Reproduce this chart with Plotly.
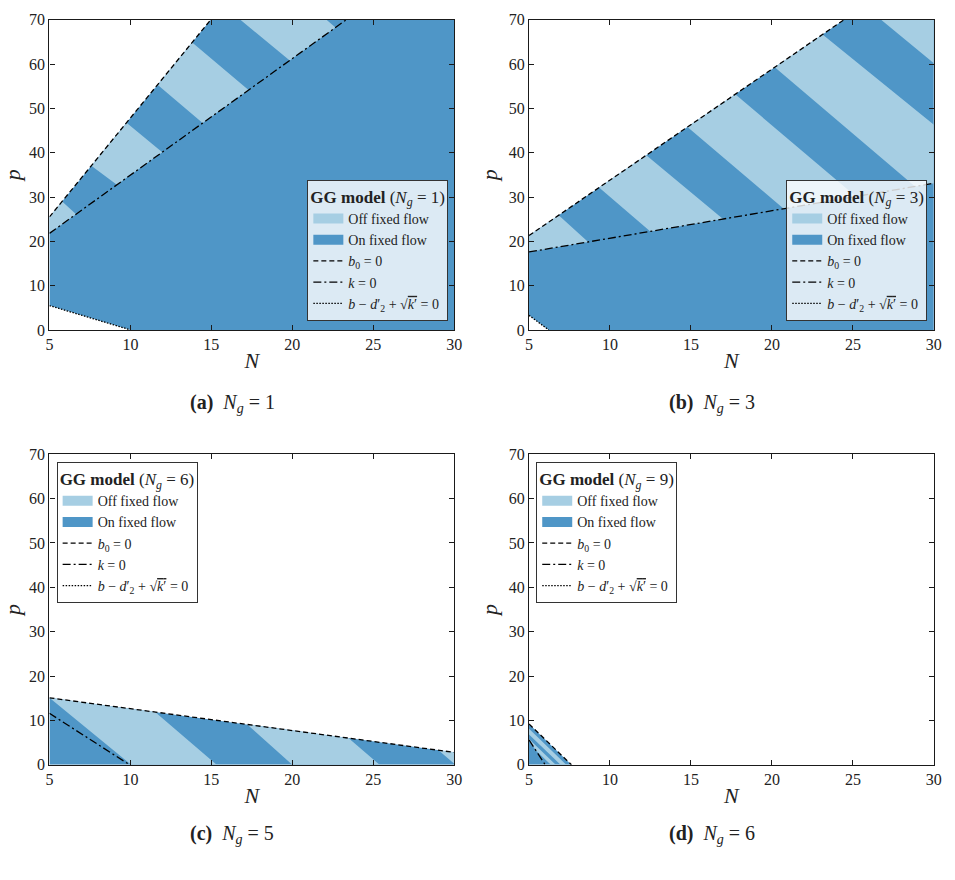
import plotly.graph_objects as go

# ---------------- data ----------------
# axes
N_TICKS = [5, 10, 15, 20, 25, 30]
P_TICKS = [0, 10, 20, 30, 40, 50, 60, 70]

# panel (a)  N_g = 1
A_B0_N = [5.0, 14.96]
A_B0_P = [25.5, 70.0]
A_K_N = [5.0, 23.33]
A_K_P = [21.8, 70.0]
A_DOT_N = [5.0, 10.02]
A_DOT_P = [5.5, 0.0]
A_BND_N = [[5.91, 6.63], [7.64, 9.11], [9.82, 11.91], [11.75, 14.39],
           [13.88, 17.24], [16.79, 19.78], [22.11, 22.62]]
A_BND_P = [[28.6, 26.2], [36.9, 32.9], [46.6, 40.3], [55.1, 46.9],
           [64.7, 54.3], [70.0, 61.0], [70.0, 68.4]]
A_FIRST_OFF = True

# panel (b)  N_g = 3
B_B0_N = [5.0, 24.45]
B_B0_P = [21.3, 70.0]
B_K_N = [5.0, 30.0]
B_K_P = [17.6, 33.1]
B_DOT_N = [5.0, 6.22]
B_DOT_P = [3.3, 0.0]
B_BND_N = [[6.83, 8.55], [9.37, 12.41], [12.32, 16.89], [14.85, 20.84],
           [17.80, 25.55], [20.24, 27.48], [23.19, 30.0], [26.74, 30.0]]
B_BND_P = [[25.9, 20.2], [32.0, 22.5], [39.2, 25.3], [45.6, 27.0],
           [53.0, 29.0], [59.1, 36.6], [66.5, 46.3], [70.0, 60.2]]
B_FIRST_OFF = True

# panel (c)  N_g = 5 (legend N_g = 6)
C_B0_N = [5.0, 30.0]
C_B0_P = [15.1, 2.8]
C_K_N = [5.0, 9.95]
C_K_P = [11.6, 0.0]
C_BND_N = [[5.0, 10.05], [11.44, 15.33], [17.13, 20.0], [23.43, 25.39], [29.02, 30.07]]
C_BND_P = [[15.1, 0.0], [12.16, 0.0], [9.37, 0.0], [6.12, 0.0], [3.3, 0.0]]
C_FIRST_OFF = False

# panel (d)  N_g = 6 (legend N_g = 9)
D_B0_N = [5.0, 7.62]
D_B0_P = [9.2, 0.0]
D_K_N = [5.0, 6.0]
D_K_P = [5.6, 0.0]
D_BND_N = [[5.0, 6.35], [5.0, 6.65], [5.0, 6.95], [5.0, 7.3]]
D_BND_P = [[4.7, 0.0], [5.8, 0.0], [6.8, 0.0], [8.1, 0.0]]
D_FIRST_OFF = False

LEGEND_NG = ["1", "3", "6", "9"]
CAPTIONS = [("(a)", "1"), ("(b)", "3"), ("(c)", "5"), ("(d)", "6")]

# ---------------- styling ----------------
LIGHT = "#a6cee3"
DARK = "#4f96c7"
FONT = "Liberation Serif, Times New Roman, serif"
INK = "#222222"


def clip_half(poly, n1, p1, n2, p2, keep_above):
    m = (p2 - p1) / (n2 - n1)

    def g(pt):
        v = pt[1] - (p1 + m * (pt[0] - n1))
        return v if keep_above else -v

    out = []
    for i in range(len(poly)):
        cur, prev = poly[i], poly[i - 1]
        gc, gp = g(cur), g(prev)
        if gc >= 0:
            if gp < 0:
                t = gp / (gp - gc)
                out.append((prev[0] + t * (cur[0] - prev[0]), prev[1] + t * (cur[1] - prev[1])))
            out.append(cur)
        elif gp >= 0:
            t = gp / (gp - gc)
            out.append((prev[0] + t * (cur[0] - prev[0]), prev[1] + t * (cur[1] - prev[1])))
    return out


def polys_to_xy(polys):
    xs, ys = [], []
    for pol in polys:
        if len(pol) < 3:
            continue
        for q in pol:
            xs.append(q[0]); ys.append(q[1])
        xs.append(pol[0][0]); ys.append(pol[0][1])
        xs.append(None); ys.append(None)
    return xs, ys


panels = [
    dict(b0=(A_B0_N, A_B0_P), k=(A_K_N, A_K_P), dot=(A_DOT_N, A_DOT_P),
         bn=A_BND_N, bp=A_BND_P, first=A_FIRST_OFF),
    dict(b0=(B_B0_N, B_B0_P), k=(B_K_N, B_K_P), dot=(B_DOT_N, B_DOT_P),
         bn=B_BND_N, bp=B_BND_P, first=B_FIRST_OFF),
    dict(b0=(C_B0_N, C_B0_P), k=(C_K_N, C_K_P), dot=None,
         bn=C_BND_N, bp=C_BND_P, first=C_FIRST_OFF),
    dict(b0=(D_B0_N, D_B0_P), k=(D_K_N, D_K_P), dot=None,
         bn=D_BND_N, bp=D_BND_P, first=D_FIRST_OFF),
]

fig = go.Figure()
rect = [(5.0, 0.0), (30.0, 0.0), (30.0, 70.0), (5.0, 70.0)]
lw = 1.3
DASH = "5px,3px"
DASHDOT = "8px,3px,2px,3px"
DOT = "1.5px,1.5px"

for i, pan in enumerate(panels):
    xa = "x" if i == 0 else f"x{i+1}"
    ya = "y" if i == 0 else f"y{i+1}"
    lg = "legend" if i == 0 else f"legend{i+1}"
    bN, bP = pan["b0"]
    kN, kP = pan["k"]
    region = clip_half(rect, bN[0], bP[0], bN[1], bP[1], False)
    if pan["dot"] is not None:
        dN, dP = pan["dot"]
        region = clip_half(region, dN[0], dP[0], dN[1], dP[1], True)
    stripe_reg = clip_half(region, kN[0], kP[0], kN[1], kP[1], True)
    light_polys = []
    nb = len(pan["bn"])
    state = pan["first"]
    for j in range(nb + 1):
        if state:
            poly = stripe_reg
            if j > 0:
                ln, lp = pan["bn"][j - 1], pan["bp"][j - 1]
                poly = clip_half(poly, ln[0], lp[0], ln[1], lp[1], True)
            if j < nb:
                hn, hp = pan["bn"][j], pan["bp"][j]
                poly = clip_half(poly, hn[0], hp[0], hn[1], hp[1], False)
            light_polys.append(poly)
        state = not state

    dx, dy = polys_to_xy([region])
    fig.add_trace(go.Scatter(x=dx, y=dy, fill="toself", fillcolor=DARK, mode="lines",
                             line=dict(width=0, color=DARK), showlegend=False,
                             hoverinfo="skip", xaxis=xa, yaxis=ya))
    lx, ly = polys_to_xy(light_polys)
    fig.add_trace(go.Scatter(x=lx, y=ly, fill="toself", fillcolor=LIGHT, mode="lines",
                             line=dict(width=0, color=LIGHT), showlegend=False,
                             hoverinfo="skip", xaxis=xa, yaxis=ya))
    # boundary lines
    fig.add_trace(go.Scatter(x=bN, y=bP, mode="lines", line=dict(color="black", width=lw, dash=DASH),
                             showlegend=False, xaxis=xa, yaxis=ya, hoverinfo="skip"))
    fig.add_trace(go.Scatter(x=kN, y=kP, mode="lines",
                             line=dict(color="black", width=lw, dash=DASHDOT),
                             showlegend=False, xaxis=xa, yaxis=ya, hoverinfo="skip"))
    if pan["dot"] is not None:
        dN, dP = pan["dot"]
        fig.add_trace(go.Scatter(x=dN, y=dP, mode="lines", line=dict(color="black", width=lw, dash=DOT),
                                 showlegend=False, xaxis=xa, yaxis=ya, hoverinfo="skip"))
    # legend entries
    entries = [
        ("Off fixed flow", dict(color=LIGHT, width=11)),
        ("On fixed flow", dict(color=DARK, width=11)),
        ("<i>b</i><sub>0</sub> = 0", dict(color="black", width=lw, dash=DASH)),
        ("<i>k</i> = 0", dict(color="black", width=lw, dash=DASHDOT)),
        ("<i>b</i> − <i>d</i>′<sub>2</sub> + √<span style=\"text-decoration:overline\"><i>k</i>′</span> = 0",
         dict(color="black", width=lw, dash=DOT)),
    ]
    for name, ln in entries:
        fig.add_trace(go.Scatter(x=[None], y=[None], mode="lines", line=ln, name=name,
                                 legend=lg, xaxis=xa, yaxis=ya, showlegend=True))

x_doms = [[46 / 955, 456 / 955], [531.7 / 955, 941.7 / 955]]
y_doms = [[1 - 328.3 / 880, 1 - 12 / 880], [1 - 771.7 / 880, 1 - 455 / 880]]

layout = dict(
    width=955, height=880,
    margin=dict(l=0, r=0, t=0, b=0),
    paper_bgcolor="white", plot_bgcolor="white",
    font=dict(family=FONT, color=INK),
    annotations=[],
)

axis_common = dict(showgrid=False, zeroline=False, showline=True, linecolor="#1a1a1a", linewidth=1.2,
                   ticks="inside", ticklen=5, tickwidth=1, tickcolor="#1a1a1a", mirror="ticks",
                   tickfont=dict(family=FONT, size=16, color=INK))

leg_pos = [
    dict(x=450 / 955, xanchor="right", y=1 - 319 / 880, yanchor="bottom"),
    dict(x=935 / 955, xanchor="right", y=1 - 319 / 880, yanchor="bottom"),
    dict(x=53.3 / 955, xanchor="left", y=1 - 463 / 880, yanchor="top"),
    dict(x=539 / 955, xanchor="left", y=1 - 463 / 880, yanchor="top"),
]
cap_x = [231 / 955, 717 / 955]
cap_y = [1 - 403 / 880, 1 - 843 / 880]

for i in range(4):
    col, row = i % 2, i // 2
    xk = "xaxis" if i == 0 else f"xaxis{i+1}"
    yk = "yaxis" if i == 0 else f"yaxis{i+1}"
    ya = "y" if i == 0 else f"y{i+1}"
    xa = "x" if i == 0 else f"x{i+1}"
    layout[xk] = dict(axis_common, domain=x_doms[col], anchor=ya, range=[5, 30],
                      tickmode="array", tickvals=N_TICKS, ticktext=[str(v) for v in N_TICKS],
                      title=dict(text="<i>N</i>", font=dict(family=FONT, size=22, color=INK), standoff=0))
    layout[yk] = dict(axis_common, domain=y_doms[row], anchor=xa, range=[0, 70],
                      tickmode="array", tickvals=P_TICKS, ticktext=[str(v) for v in P_TICKS],
                      title=dict(text="<i>p</i>", font=dict(family=FONT, size=22, color=INK), standoff=5))
    lk = "legend" if i == 0 else f"legend{i+1}"
    layout[lk] = dict(leg_pos[i], bgcolor="rgba(255,255,255,0.8)", bordercolor="#333333", borderwidth=1,
                      font=dict(family=FONT, size=14, color=INK), itemwidth=30, tracegroupgap=0,
                      title=dict(text=f"<b>GG model</b> (<i>N<sub>g</sub></i> = {LEGEND_NG[i]})",
                                 font=dict(family=FONT, size=17, color=INK)))
    lab, ng = CAPTIONS[i]
    layout["annotations"].append(dict(
        text=f"<b>{lab}</b>  <i>N<sub>g</sub></i> = {ng}", xref="paper", yref="paper",
        x=cap_x[col], y=cap_y[row], xanchor="center", yanchor="middle", showarrow=False,
        font=dict(family=FONT, size=20, color=INK)))

fig.update_layout(**layout)
fig.write_html("out.html")
